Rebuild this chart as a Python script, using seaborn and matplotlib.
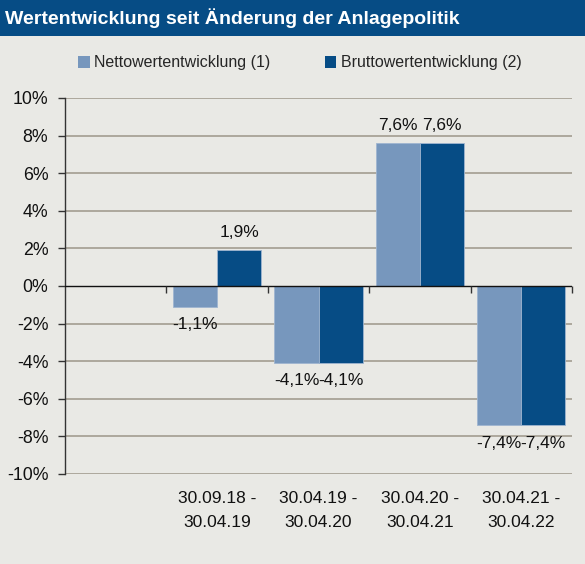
import matplotlib
matplotlib.use("Agg")
import matplotlib.pyplot as plt
import matplotlib.font_manager as fm
from matplotlib.patches import Rectangle
import seaborn as sns
import pandas as pd

periods = ["", "30.09.18 -\n30.04.19", "30.04.19 -\n30.04.20", "30.04.20 -\n30.04.21", "30.04.21 -\n30.04.22"]
data_periods = periods[1:]
netto = [-1.1, -4.1, 7.6, -7.4]
brutto = [1.9, -4.1, 7.6, -7.4]
series = ["Nettowertentwicklung (1)", "Bruttowertentwicklung (2)"]
colors = ["#7797BD", "#064C85"]
yticks = [-10, -8, -6, -4, -2, 0, 2, 4, 6, 8, 10]
title = "Wertentwicklung seit Änderung der Anlagepolitik"

names = {f.name for f in fm.fontManager.ttflist}
fam = "Liberation Sans Narrow" if "Liberation Sans Narrow" in names else "Liberation Sans"

sns.set_theme(style="white")
plt.rcParams["font.family"] = [fam, "DejaVu Sans"]

bg = "#E9E9E5"
df = pd.DataFrame({
    "Zeitraum": data_periods * 2,
    "Serie": [series[0]] * len(netto) + [series[1]] * len(brutto),
    "Wert": netto + brutto,
})

fig = plt.figure(figsize=(5.85, 5.64), dpi=100, facecolor=bg)
ax = fig.add_axes([65/585, 1 - 474/564, (572-65)/585, (474-98)/564])
ax.set_facecolor(bg)

sns.barplot(data=df, x="Zeitraum", y="Wert", hue="Serie", order=periods,
            hue_order=series, palette=colors, width=0.87, ax=ax,
            saturation=1, legend=False, errorbar=None, linewidth=0.6,
            edgecolor="#9FB5D0")

ax.set_ylim(-10, 10)
ax.set_xlim(-0.5, len(periods) - 0.5)
ax.set_yticks(yticks)
ax.set_yticklabels([f"{t}%" for t in yticks], fontsize=12.8, color="#111111")
for t in yticks:
    if t != 0:
        ax.axhline(t, color="#A39D90", lw=1.2, zorder=0)
ax.axhline(0, color="#111111", lw=1.0, zorder=3)

for s in ["top", "right", "bottom"]:
    ax.spines[s].set_visible(False)
ax.spines["left"].set_color("#333333")
ax.spines["left"].set_linewidth(1.0)
ax.tick_params(axis="y", length=5, width=1, color="#333333", left=True, pad=7)

# category labels at bottom
ax.set_xticks(range(len(periods)))
ax.set_xticklabels(periods, fontsize=12.5, color="#111111", linespacing=1.8)
ax.tick_params(axis="x", length=0, pad=12)
ax.set_xlabel("")
ax.set_ylabel("")

# boundary tick marks on zero line
bounds = [i + 0.5 for i in range(len(periods))]
ax.vlines(bounds, -0.35, 0, color="#333333", lw=1.0, zorder=3, clip_on=False)

def fmt(v):
    return f"{v:.1f}%".replace(".", ",")

for cont in ax.containers:
    labels = [fmt(b.get_height()) if b.get_height() == b.get_height() else "" for b in cont]
    ax.bar_label(cont, labels=labels, padding=7.5, fontsize=12.5, color="#111111")

# title bar
fig.patches.append(Rectangle((0, 1 - 36/564), 1, 36/564, transform=fig.transFigure,
                             facecolor="#064C85", edgecolor="none", zorder=0))
fig.text(5/585, 1 - 18/564, title, color="white", fontsize=14, fontweight="bold",
         va="center", ha="left")

handles = [Rectangle((0, 0), 1, 1, facecolor=c, edgecolor="none") for c in colors]
fig.legend(handles, series, loc="center", bbox_to_anchor=(300/585, 1 - 63/564),
           ncol=2, frameon=False, fontsize=11.5, handlelength=0.7, handleheight=0.7,
           handletextpad=0.3, columnspacing=3.4)

fig.savefig("out.png", dpi=100, facecolor=bg)
